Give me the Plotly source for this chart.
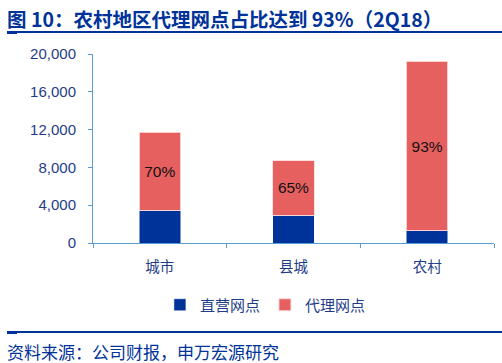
import plotly.graph_objects as go

categories = ["城市", "县城", "农村"]
direct = [3450, 2960, 1300]
agent = [8250, 5750, 17930]
agent_pct = ["70%", "65%", "93%"]
yticks = [0, 4000, 8000, 12000, 16000, 20000]
ytick_labels = ["0", "4,000", "8,000", "12,000", "16,000", "20,000"]

W, H = 502, 363
L, R, T, B = 93, 8, 54, 120
pw = W - L - R
ph = H - T - B

def px(x):
    return (x - L) / pw

def py(y):
    return (H - B - y) / ph

navy = "#003399"
red = "#E66060"
axis_col = "#5B9BD5"
tick_col = "#1F3C88"
cjk = "Noto Sans CJK SC"

fig = go.Figure()
fig.add_trace(go.Bar(
    x=categories, y=direct, name="直营网点", width=0.31,
    marker=dict(color=navy, line=dict(color="rgba(255,255,255,0.5)", width=1)),
))
fig.add_trace(go.Bar(
    x=categories, y=agent, name="代理网点", width=0.31,
    text=agent_pct, textposition="inside", insidetextanchor="middle",
    textfont=dict(color="#111111", size=15.5, family="Liberation Sans"),
    marker=dict(color=red, line=dict(color="rgba(255,220,220,0.9)", width=1)),
))

fig.update_layout(
    barmode="stack",
    width=W, height=H,
    margin=dict(l=L, r=R, t=T, b=B, autoexpand=False),
    paper_bgcolor="white", plot_bgcolor="white",
    showlegend=True,
    legend=dict(orientation="h", x=0.43, xanchor="center", y=py(305), yanchor="middle",
                font=dict(family=cjk, size=15, color=tick_col),
                itemwidth=30, tracegroupgap=0, traceorder="normal"),
    xaxis=dict(
        showline=True, linecolor=axis_col, linewidth=1,
        ticks="outside", tickson="boundaries", ticklen=4, tickcolor=axis_col,
        tickfont=dict(family=cjk, size=14.5, color=tick_col),
        ticklabelstandoff=11,
        showgrid=False,
    ),
    yaxis=dict(
        range=[0, 20000], tickvals=yticks, ticktext=ytick_labels,
        showline=True, linecolor=axis_col, linewidth=1,
        ticks="outside", ticklen=4, tickcolor=axis_col,
        tickfont=dict(family="Liberation Sans", size=15, color=tick_col),
        ticklabelstandoff=9,
        showgrid=False, zeroline=False,
    ),
    font=dict(family=cjk),
)

fig.add_annotation(
    text="<b>图 10：农村地区代理网点占比达到 93%（2Q18）</b>",
    xref="paper", yref="paper", x=px(5), y=py(18.5), xanchor="left", yanchor="middle",
    showarrow=False, font=dict(family=cjk, size=19.5, color=navy),
)
fig.add_annotation(
    text="资料来源：公司财报，申万宏源研究",
    xref="paper", yref="paper", x=px(5), y=py(351), xanchor="left", yanchor="middle",
    showarrow=False, font=dict(family=cjk, size=17, color=navy),
)

for yline in (32, 332):
    fig.add_shape(type="line", xref="paper", yref="paper",
                  x0=px(7), x1=px(502), y0=py(yline), y1=py(yline),
                  line=dict(color=navy, width=2))
    fig.add_shape(type="line", xref="paper", yref="paper",
                  x0=px(7), x1=px(17), y0=py(yline + 1), y1=py(yline + 1),
                  line=dict(color=navy, width=2))

fig.write_html("out.html", config={"displayModeBar": False},
               post_script="document.body.style.margin='0';document.body.style.overflow='hidden';")
